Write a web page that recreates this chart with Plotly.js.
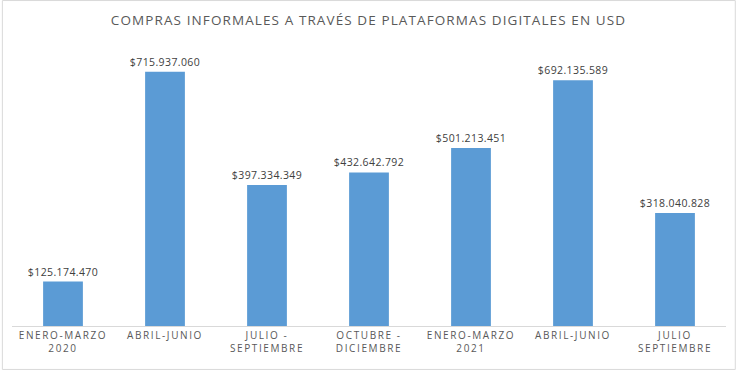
<!DOCTYPE html>
<html><head><meta charset="utf-8">
<script src="https://cdn.plot.ly/plotly-3.0.1.min.js"></script>
<style>
body{margin:0;}
#chart .xtick text{letter-spacing:1.6px;}
#chart .gtitle{letter-spacing:1.1px;}
#chart text.bartext{letter-spacing:0.4px;}
</style>
</head><body>
<div id="chart" style="width:737px;height:371px;"></div>
<script>
const categories = ["ENERO-MARZO<br>2020","ABRIL-JUNIO","JULIO -<br>SEPTIEMBRE","OCTUBRE -<br>DICIEMBRE","ENERO-MARZO<br>2021","ABRIL-JUNIO","JULIO<br>SEPTIEMBRE"];
const values = [125174470, 715937060, 397334349, 432642792, 501213451, 692135589, 318040828];
const positions = categories.map((c,i)=>i);

const trace = {
  type:'bar', x: positions, y: values,
  marker:{color:'#5b9bd5'},
  width:0.39,
  texttemplate:'$%{y:,.0f}', textposition:'outside', cliponaxis:false, constraintext:'none',
  textfont:{family:'Open Sans, Liberation Sans, sans-serif', size:10.5, color:'#404040'},
  hoverinfo:'none'
};
const layout = {
  width:737, height:371,
  margin:{l:12, r:11, t:42, b:45},
  separators:',.',
  paper_bgcolor:'#ffffff', plot_bgcolor:'#ffffff',
  title:{text:'COMPRAS INFORMALES A TRAVÉS DE PLATAFORMAS DIGITALES EN USD', x:0.5, xanchor:'center', y:0.945, yanchor:'middle',
    font:{family:'Open Sans, Liberation Sans, sans-serif', size:13.5, color:'#595959'}},
  xaxis:{tickvals:positions, ticktext:categories, range:[-0.5,6.5], showline:true, linecolor:'#d9d9d9', linewidth:1,
    ticks:'', showgrid:false, zeroline:false,
    tickfont:{family:'Open Sans, Liberation Sans, sans-serif', size:10, color:'#595959'}},
  yaxis:{range:[0,800000000], visible:false, showgrid:false, zeroline:false},
  showlegend:false,
  shapes:[{type:'rect', xref:'paper', yref:'paper', x0:-0.0135, x1:1.013, y0:-0.153, y1:1.146, line:{color:'#d9d9d9', width:1}, fillcolor:'rgba(0,0,0,0)'}]
};
Plotly.newPlot('chart',[trace],layout,{displayModeBar:false, staticPlot:true});
</script>
</body></html>
